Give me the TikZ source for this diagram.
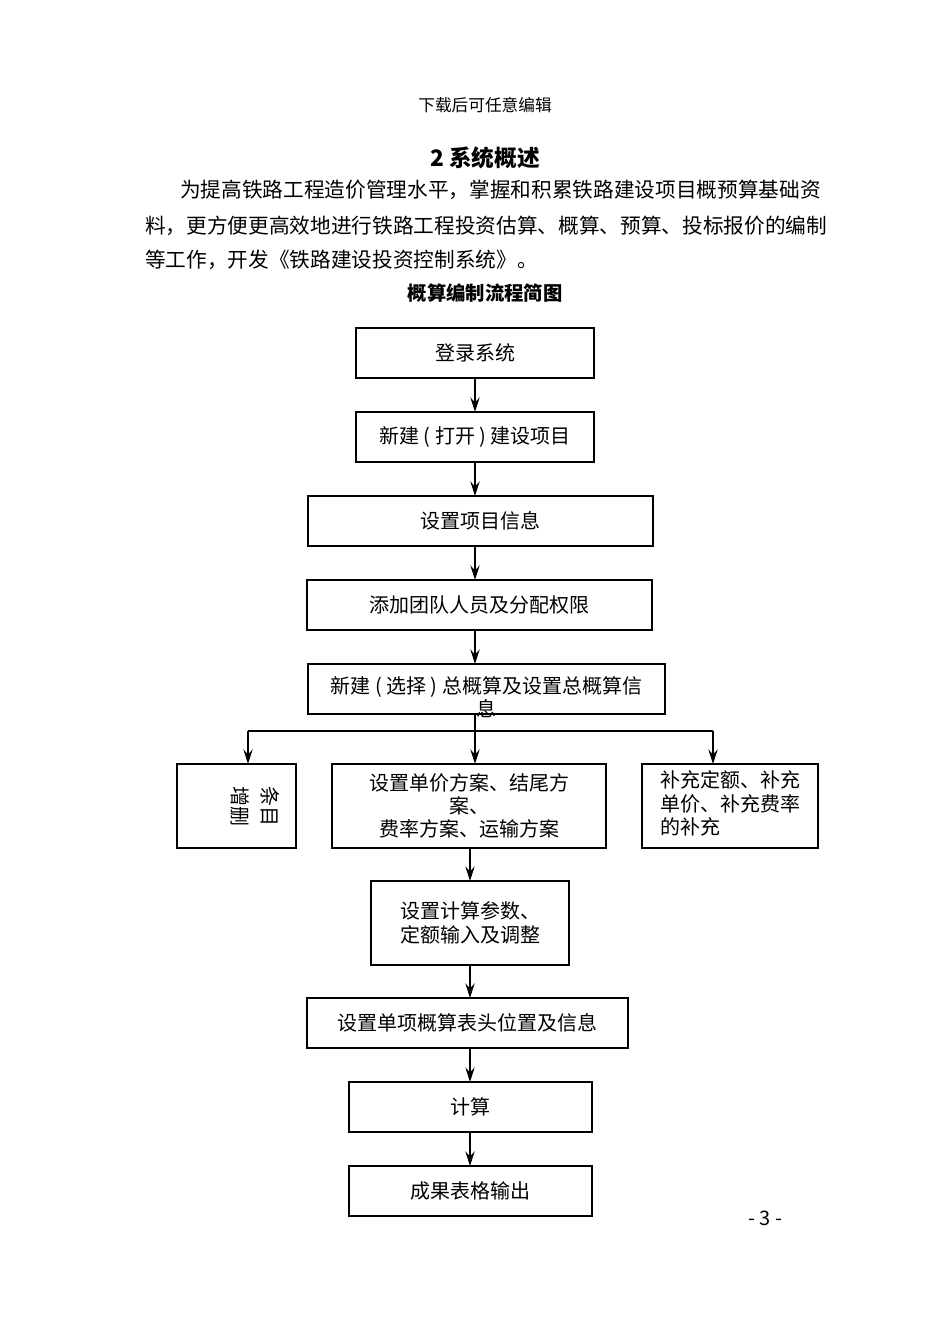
\documentclass[tikz,border=0pt]{standalone}
\usepackage{fontspec}
\setmainfont{Noto Sans CJK SC}
\usetikzlibrary{arrows.meta}
\begin{document}
\begin{tikzpicture}[x=0.75pt,y=-0.75pt,
  bx/.style={draw,line width=1.4pt,inner sep=0pt,font=\fontsize{15}{17.5}\selectfont,align=center},
  ar/.style={line width=1.2pt,-{Stealth[length=11pt,width=7pt,inset=4pt]}},
  ln/.style={line width=1.2pt},
  bt/.style={font=\fontsize{15.5}{19}\selectfont,anchor=west,inner sep=0pt}]
\useasboundingbox (0,0) rectangle (950,1342);
\node[font=\fontsize{12.5}{14}\selectfont] (hd) at (485,105) {下载后可任意编辑};
\node[font=\fontsize{17}{20}\selectfont\bfseries] (tt) at (485,158) {2\ 系统概述};
\node[bt] (p1) at (180,190) {为提高铁路工程造价管理水平，掌握和积累铁路建设项目概预算基础资};
\node[bt] (p2) at (145,226) {料，更方便更高效地进行铁路工程投资估算、概算、预算、投标报价的编制};
\node[bt] (p3) at (145,260) {等工作，开发《铁路建设投资控制系统》。};
\node[font=\fontsize{14.5}{16}\selectfont\bfseries] (ft) at (485,293) {概算编制流程简图};
\newcommand\bxat[6]{\node[bx,minimum width={(#4-#2)*0.75pt},minimum height={(#5-#3)*0.75pt}] (#1) at ({(#2+#4)/2},{(#3+#5)/2}) {#6};}
\bxat{b1}{356}{328}{594}{378}{登录系统}
\bxat{b2}{356}{412}{594}{462}{新建 ( 打开 ) 建设项目}
\bxat{b3}{308}{496}{653}{546}{设置项目信息}
\bxat{b4}{307}{580}{652}{630}{添加团队人员及分配权限}
\node[bx,minimum width={357*0.75pt},minimum height={50*0.75pt}] (b5) at (486.5,689) {};
\node[font=\fontsize{15}{17.5}\selectfont,align=center] (b5t) at (486.5,697) {新建 ( 选择 ) 总概算及设置总概算信\\息};
\bxat{l}{177}{764}{296}{848}{}
\node[font=\fontsize{15}{22}\selectfont,rotate=-90,align=left] (lt) at (255,806) {条目\\增删};
\bxat{m}{332}{764}{606}{848}{设置单价方案、结尾方\\案、\\费率方案、运输方案}
\bxat{r}{642}{764}{818}{848}{\begin{tabular}{@{}l@{}}补充定额、补充\\单价、补充费率\\的补充\end{tabular}}
\bxat{b6}{371}{881}{569}{965}{设置计算参数、\\定额输入及调整}
\bxat{b7}{307}{998}{628}{1048}{设置单项概算表头位置及信息}
\bxat{b8}{349}{1082}{592}{1132}{计算}
\bxat{b9}{349}{1166}{592}{1216}{成果表格输出}
\node[font=\fontsize{15}{16}\selectfont] (pg) at (765,1218) {-\ 3\ -};
\draw[ar] (475,378) -- (475,412);
\draw[ar] (475,462) -- (475,496);
\draw[ar] (475,546) -- (475,580);
\draw[ar] (475,630) -- (475,664);
\coordinate (jl) at (248,731); \coordinate (jr) at (713,731); \coordinate (jm) at (475,731);
\draw[ln] (475,714) -- (jm);
\draw[ln] (jl) -- (jr);
\draw[ar] (jl) -- (248,764);
\draw[ar] (jm) -- (475,764);
\draw[ar] (jr) -- (713,764);
\draw[ar] (470,848) -- (470,881);
\draw[ar] (470,965) -- (470,998);
\draw[ar] (470,1048) -- (470,1082);
\draw[ar] (470,1132) -- (470,1166);
\end{tikzpicture}
\end{document}
